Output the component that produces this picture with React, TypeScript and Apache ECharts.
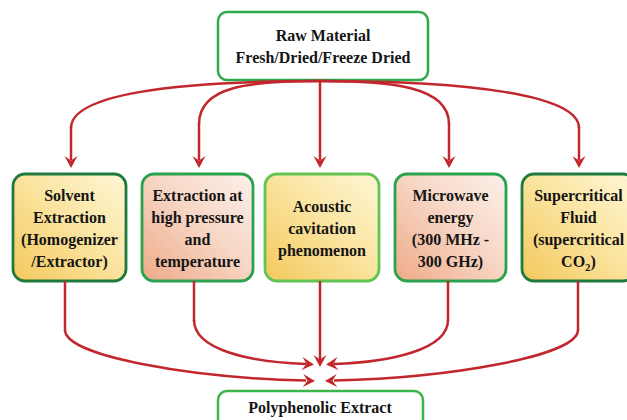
import React, { useEffect, useRef } from "react";
import * as echarts from "echarts";

// ---- content ----
const sourceLines = ["Raw Material", "Fresh/Dried/Freeze Dried"];
const methodLines: string[][] = [
  ["Solvent", "Extraction", "(Homogenizer", "/Extractor)"],
  ["Extraction at", "high pressure", "and", "temperature"],
  ["Acoustic", "cavitation", "phenomenon"],
  ["Microwave", "energy", "(300 MHz -", "300 GHz)"],
  ["Supercritical", "Fluid", "(supercritical", "{b|CO}{s|2}{b|)}"],
];
const methodTone = ["yellow", "peach", "yellow", "peach", "yellow"];
const methodBorder = ["dark", "mid", "light", "mid", "dark"];
const productLabel = "Polyphenolic Extract";

// ---- layout ----
const BOX_X = [13, 142, 265, 395, 522];
const BOX_W = [113, 111, 114, 111, 113];
const BOX_Y = 174;
const BOX_H = 107;
const BOT_SRC_X = [65, 194, 320, 448, 578];

const RED = "#c1272d";
const GREEN = { dark: "#1f7b3d", mid: "#2ba24d", light: "#62c553" } as Record<string, string>;
const FONT = "'Liberation Serif', 'Times New Roman', serif";

function head(tx: number, ty: number, dx: number, dy: number) {
  const len = Math.hypot(dx, dy);
  dx /= len; dy /= len;
  const L = 12, W = 6.5, N = 4.5;
  const px = -dy, py = dx;
  const bx = tx - dx * L, by = ty - dy * L;
  return {
    type: "polygon",
    shape: {
      points: [
        [tx, ty],
        [bx + px * W, by + py * W],
        [tx - dx * (L - N), ty - dy * (L - N)],
        [bx - px * W, by - py * W],
      ],
    },
    style: { fill: RED },
    z: 5,
  };
}

function line(x1: number, y1: number, x2: number, y2: number) {
  return { type: "line", shape: { x1, y1, x2, y2 }, style: { stroke: RED, lineWidth: 2.5 }, z: 4 };
}
function curve(x1: number, y1: number, cpx1: number, cpy1: number, cpx2: number, cpy2: number, x2: number, y2: number) {
  return {
    type: "bezierCurve",
    shape: { x1, y1, cpx1, cpy1, cpx2, cpy2, x2, y2 },
    style: { stroke: RED, lineWidth: 2.5, fill: null },
    z: 4,
  };
}

function fillFor(tone: string) {
  const stops =
    tone === "yellow"
      ? [
          { offset: 0, color: "#fef6d6" },
          { offset: 0.45, color: "#fbe5a2" },
          { offset: 1, color: "#f3c85c" },
        ]
      : [
          { offset: 0, color: "#fcf0ea" },
          { offset: 0.45, color: "#f7d7c6" },
          { offset: 1, color: "#eeaa88" },
        ];
  return new echarts.graphic.LinearGradient(1, 0, 0, 1, stops);
}

const richBase = {
  b: { fontFamily: FONT, fontWeight: "bold", fontSize: 16, lineHeight: 22, fill: "#151515" },
  s: { fontFamily: FONT, fontWeight: "bold", fontSize: 11, lineHeight: 12, verticalAlign: "bottom", fill: "#151515" },
};

const wrap = (l: string) => (l.startsWith("{") ? l : `{b|${l}}`);

function buildElements() {
  const els: any[] = [];
  // top box
  els.push({
    type: "rect",
    shape: { x: 218, y: 12, width: 210, height: 68, r: 9 },
    style: { fill: "#ffffff", stroke: "#2ea94b", lineWidth: 2.5 },
    z: 3,
  });
  els.push({
    type: "text",
    x: 323,
    y: 46,
    style: {
      text: sourceLines.map(wrap).join("\n"),
      rich: richBase,
      align: "center",
      verticalAlign: "middle",
    },
    z: 6,
  });

  // top arrows
  const TY = 81;
  els.push(curve(320, TY, 170, TY, 71, 95, 71, 128), line(71, 127, 71, 160), head(71, 168, 0, 1));
  els.push(curve(320, TY, 250, TY, 199, 86, 199, 124), line(199, 123, 199, 160), head(199, 168, 0, 1));
  els.push(line(320, TY, 320, 160), head(320, 168, 0, 1));
  els.push(curve(320, TY, 390, TY, 449, 86, 449, 124), line(449, 123, 449, 160), head(449, 168, 0, 1));
  els.push(curve(320, TY, 470, TY, 579, 95, 579, 128), line(579, 127, 579, 160), head(579, 168, 0, 1));

  // method boxes
  methodLines.forEach((lines, i) => {
    const x = BOX_X[i], w = BOX_W[i];
    els.push({
      type: "rect",
      shape: { x, y: BOX_Y, width: w, height: BOX_H, r: 12 },
      style: { fill: fillFor(methodTone[i]), stroke: GREEN[methodBorder[i]], lineWidth: 2.8 },
      z: 3,
    });
    els.push({
      type: "text",
      x: x + w / 2,
      y: BOX_Y + BOX_H / 2 + 0.5,
      style: {
        text: lines.map(wrap).join("\n"),
        rich: richBase,
        align: "center",
        verticalAlign: "middle",
      },
      z: 6,
    });
  });

  // bottom arrows
  const BY = BOX_Y + BOX_H;
  els.push(line(BOT_SRC_X[0], BY, BOT_SRC_X[0], 331), curve(65, 330, 65, 356, 190, 378, 306, 380.5), head(315, 381, 1, 0.05));
  els.push(line(BOT_SRC_X[1], BY, BOT_SRC_X[1], 321), curve(194, 320, 194, 350, 250, 362, 306, 364), head(314, 364.5, 1, 0.08));
  els.push(line(BOT_SRC_X[2], BY, BOT_SRC_X[2], 360), head(320, 367, 0, 1));
  els.push(line(BOT_SRC_X[3], BY, BOT_SRC_X[3], 321), curve(448, 320, 448, 350, 390, 362, 334, 364), head(326, 364.5, -1, 0.08));
  els.push(line(BOT_SRC_X[4], BY, BOT_SRC_X[4], 331), curve(578, 330, 578, 356, 450, 378, 334, 380.5), head(325, 381, -1, 0.05));

  // product box
  els.push({
    type: "rect",
    shape: { x: 218, y: 391, width: 205, height: 45, r: 9 },
    style: { fill: "#ffffff", stroke: "#3bb54a", lineWidth: 2.5 },
    z: 3,
  });
  els.push({
    type: "text",
    x: 320,
    y: 407,
    style: { text: `{b|${productLabel}}`, rich: richBase, align: "center", verticalAlign: "middle" },
    z: 6,
  });
  return els;
}

export default function App() {
  const ref = useRef<HTMLDivElement>(null);
  useEffect(() => {
    if (!ref.current) return;
    const chart = echarts.init(ref.current, null, { renderer: "svg" });
    chart.setOption({
      animation: false,
      backgroundColor: "#ffffff",
      graphic: { elements: buildElements() },
    });
    return () => chart.dispose();
  }, []);
  return (
    <div
      ref={ref}
      style={{ position: "fixed", left: 0, top: 0, width: 627, height: 420, background: "#fff" }}
    />
  );
}
